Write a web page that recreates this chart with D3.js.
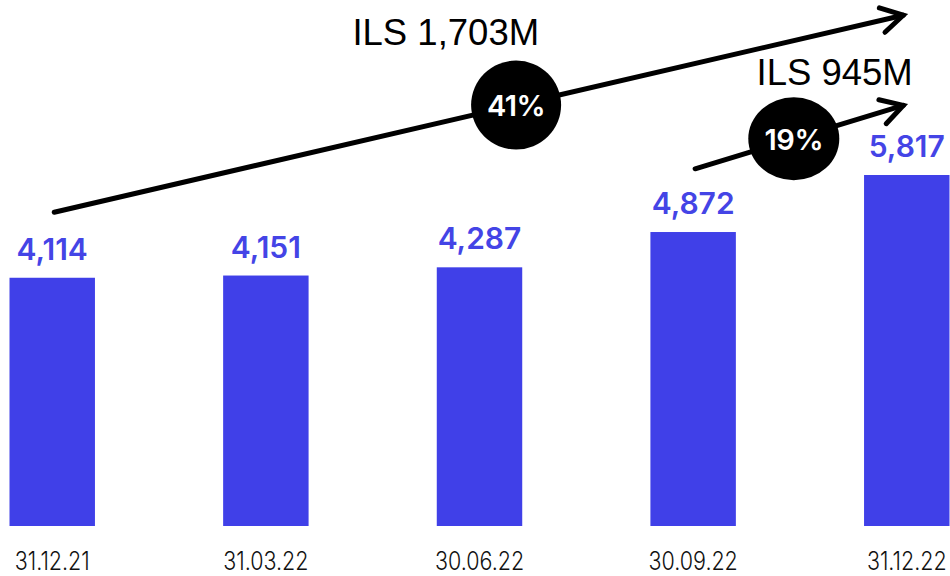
<!DOCTYPE html>
<html>
<head>
<meta charset="utf-8">
<script src="https://cdn.jsdelivr.net/npm/d3@7"></script>
<style>
  html, body { margin: 0; padding: 0; background: #ffffff; }
  svg { display: block; }
</style>
</head>
<body>
<svg id="chart" width="950" height="576"></svg>
<script>
// ---- data ----
const categories = ["31.12.21", "31.03.22", "30.06.22", "30.09.22", "31.12.22"];
const values = [4114, 4151, 4287, 4872, 5817];
const valueLabels = ["4,114", "4,151", "4,287", "4,872", "5,817"];

// growth annotations (from category/value to category/value, in data units)
const growthFrom = ["31.12.21", "30.09.22"];
const growthTo = ["31.12.22", "31.12.22"];
const growthFromValue = [5200, 5920];
const growthToValue = [8465, 6970];
const growthPct = ["41%", "19%"];
const growthAmount = ["ILS 1,703M", "ILS 945M"];

// ---- layout ----
const W = 950, H = 576;
const barColor = "#4040e8";
const svg = d3.select("#chart");

const x = d3.scaleBand().domain(categories).range([9.5, 949.5]).paddingInner(0.6).paddingOuter(0);
const y = d3.scaleLinear().domain([0, 5817]).range([526, 175]);

// bars
svg.append("g").selectAll("rect").data(values).join("rect")
  .attr("x", (d, i) => x(categories[i]))
  .attr("width", x.bandwidth())
  .attr("y", d => y(d))
  .attr("height", d => y(0) - y(d))
  .attr("fill", barColor);

// value labels
svg.append("g").selectAll("text").data(values).join("text")
  .attr("x", (d, i) => x(categories[i]) + x.bandwidth() / 2)
  .attr("y", d => y(d) - 18)
  .attr("text-anchor", "middle")
  .attr("font-family", "Inter, sans-serif")
  .attr("font-weight", 600)
  .attr("font-size", 30)
  .attr("fill", "#4444e6")
  .style("font-variant-numeric", "proportional-nums")
  .text((d, i) => valueLabels[i]);

// category axis labels
const xAxis = d3.axisBottom(x).tickSize(0).tickPadding(0);
const gx = svg.append("g").attr("transform", `translate(0, ${y(0)})`).call(xAxis);
gx.select(".domain").remove();
gx.selectAll(".tick text")
  .attr("dy", null)
  .attr("y", 0)
  .attr("transform", "translate(0,43.5) scale(0.86,1)")
  .attr("font-family", "Inter, sans-serif")
  .attr("font-weight", 300)
  .attr("font-size", 25)
  .style("font-variant-numeric", "proportional-nums")
  .attr("fill", "#111");

// growth arrows
const circleT = [0.544, 0.474];
const circleR = [[45, 44.5], [45.5, 41.5]];
const labelOffset = [[23, -60], [119, -54]];
const headLen = 25, headAng = 30 * Math.PI / 180;

growthFrom.forEach((f, i) => {
  const x0 = x(f) + x.bandwidth() / 2 + 2, y0 = y(growthFromValue[i]);
  const x1 = x(growthTo[i]) + x.bandwidth() / 2 - 3.5, y1 = y(growthToValue[i]);
  const g = svg.append("g");
  g.append("line")
    .attr("x1", x0).attr("y1", y0).attr("x2", x1).attr("y2", y1)
    .attr("stroke", "#000").attr("stroke-width", 5).attr("stroke-linecap", "round");
  const a = Math.atan2(y0 - y1, x0 - x1);
  const arms = [a - headAng, a + headAng].map(b => [x1 + headLen * Math.cos(b), y1 + headLen * Math.sin(b)]);
  g.append("path")
    .attr("d", `M${arms[0][0]},${arms[0][1]}L${x1},${y1}L${arms[1][0]},${arms[1][1]}`)
    .attr("fill", "none").attr("stroke", "#000").attr("stroke-width", 5)
    .attr("stroke-linecap", "round").attr("stroke-linejoin", "miter");
  const cx = x0 + (x1 - x0) * circleT[i], cy = y0 + (y1 - y0) * circleT[i];
  g.append("ellipse").attr("cx", cx).attr("cy", cy)
    .attr("rx", circleR[i][0]).attr("ry", circleR[i][1]).attr("fill", "#000");
  g.append("text").attr("x", cx).attr("y", cy + 11)
    .attr("text-anchor", "middle")
    .attr("font-family", "Inter, sans-serif").attr("font-weight", 600)
    .attr("font-size", 29).attr("letter-spacing", -0.5).attr("fill", "#fff")
    .style("font-variant-numeric", "proportional-nums")
    .text(growthPct[i]);
  g.append("text").attr("x", cx + labelOffset[i][0]).attr("y", cy + labelOffset[i][1])
    .attr("text-anchor", "end")
    .attr("font-family", "'Liberation Sans', Arial, sans-serif")
    .attr("font-size", 36.5).attr("fill", "#000")
    .text(growthAmount[i]);
});
</script>
</body>
</html>
